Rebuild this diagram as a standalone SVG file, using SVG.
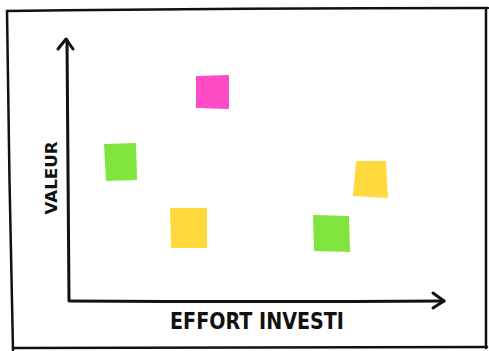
<svg xmlns="http://www.w3.org/2000/svg" width="489" height="351" viewBox="0 0 489 351">
<style>
.frame{fill:none;stroke:#111;stroke-width:2.5;stroke-linecap:round;stroke-linejoin:round}
.axis{fill:none;stroke:#111;stroke-width:3;stroke-linecap:round;stroke-linejoin:round}
.lbl{font-family:"DejaVu Sans",sans-serif;font-weight:bold;fill:#111}
.pink{fill:#FF4BC6}
.green{fill:#7FE43C}
.yellow{fill:#FFD93E}
</style>
<rect width="489" height="351" fill="#fff"/>
<g id="frame">
<path class="frame" d="M7,11 Q240,8 488,8"/>
<path class="frame" d="M7,11 Q9,180 13,350"/>
<path class="frame" d="M13,348 L487,347"/>
<path class="frame" d="M486,10 L486,348"/>
</g>
<g id="connectors">
<path class="axis" d="M69,301 Q68,170 67,40"/>
<path class="axis" d="M58,49 L66,39 L73,49"/>
<path class="axis" d="M71,301 Q260,302 444,301"/>
<path class="axis" d="M433,293 L444,301 L433,308"/>
</g>
<g id="label-x"><text class="lbl" x="257" y="329" font-size="23" text-anchor="middle" textLength="174" lengthAdjust="spacingAndGlyphs">EFFORT INVESTI</text></g>
<g id="label-y"><text class="lbl" transform="translate(57,178) rotate(-90)" x="0" y="0" font-size="16" text-anchor="middle" textLength="73" lengthAdjust="spacingAndGlyphs">VALEUR</text></g>
<g id="sticky-pink"><path class="pink" d="M196,76 L229,75 L229,109 L196,108 Z"/></g>
<g id="sticky-green-1"><path class="green" d="M104,144 L136,143 L137,180 L106,181 Z"/></g>
<g id="sticky-yellow-right"><path class="yellow" d="M356,161 L386,161 L388,198 L353,196 Z"/></g>
<g id="sticky-yellow-left"><path class="yellow" d="M170,208 L207,208 L207,248 L171,248 Z"/></g>
<g id="sticky-green-2"><path class="green" d="M313,215 L349,216 L350,252 L314,251 Z"/></g>
</svg>
